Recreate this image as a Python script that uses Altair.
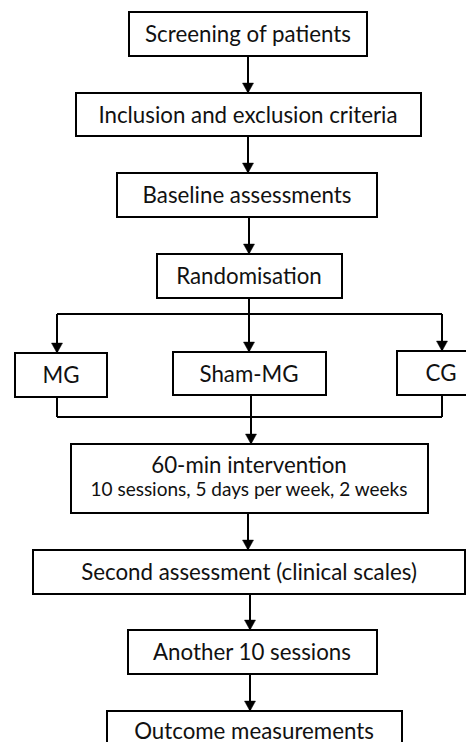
import altair as alt
import pandas as pd

# Boxes (diagram coordinates, y grows downward)
box_label = ["Screening of patients", "Inclusion and exclusion criteria", "Baseline assessments",
             "Randomisation", "MG", "Sham-MG", "CG", "60-min intervention",
             "Second assessment (clinical scales)", "Another 10 sessions", "Outcome measurements"]
box_x1 = [129, 76, 117, 157, 15, 173, 397, 71, 33, 128, 107]
box_x2 = [367, 421, 377, 342, 107, 326, 473, 428, 465, 377, 402]
box_y1 = [12, 93, 173, 254, 353, 352, 351, 444, 550, 630, 711]
box_y2 = [56, 136, 217, 298, 397, 395, 395, 513, 594, 674, 765]

# Main text positions
text_label = box_label
text_x = [248, 248, 247, 249, 61, 249, 441, 249, 249, 252, 254]
text_y = [35, 116, 196, 277, 376, 375, 374, 466, 573, 653, 732]

# Sub text
sub_label = ["10 sessions, 5 days per week, 2 weeks"]
sub_x = [249]
sub_y = [490]

# Connector segments
seg_x1 = [248, 248, 249, 249, 57, 57, 249, 442, 57, 442, 57, 251, 248, 250, 250]
seg_y1 = [56, 136, 217, 298, 314, 314, 314, 314, 397, 395, 417, 395, 513, 594, 674]
seg_x2 = [248, 248, 249, 249, 442, 57, 249, 442, 57, 442, 442, 251, 248, 250, 250]
seg_y2 = [93, 173, 254, 314, 314, 353, 352, 351, 417, 417, 417, 444, 550, 630, 711]

# Arrowheads (tip points)
arrow_x = [248, 248, 249, 57, 249, 442, 251, 248, 250, 250]
arrow_y = [93, 173, 254, 353, 352, 351, 444, 550, 630, 711]

boxes = pd.DataFrame({"label": box_label, "x1": box_x1, "x2": box_x2, "y1": box_y1, "y2": box_y2})
texts = pd.DataFrame({"label": text_label, "x": text_x, "y": text_y})
subs = pd.DataFrame({"label": sub_label, "x": sub_x, "y": sub_y})
segs = pd.DataFrame({"x1": seg_x1, "y1": seg_y1, "x2": seg_x2, "y2": seg_y2})
arrows = pd.DataFrame({"x": arrow_x, "y": arrow_y})

xs = alt.Scale(domain=[8, 466], nice=False, zero=False)
ys = alt.Scale(domain=[8, 742], nice=False, zero=False, reverse=True)

rects = alt.Chart(boxes).mark_rect(fill="white", stroke="black", strokeWidth=2, clip=False).encode(
    x=alt.X("x1:Q", scale=xs, axis=None), x2="x2:Q",
    y=alt.Y("y1:Q", scale=ys, axis=None), y2="y2:Q")

lines = alt.Chart(segs).mark_rule(color="black", strokeWidth=2).encode(
    x=alt.X("x1:Q", scale=xs, axis=None), x2="x2:Q",
    y=alt.Y("y1:Q", scale=ys, axis=None), y2="y2:Q")

heads = alt.Chart(arrows).mark_point(
    shape="M-1,-1.8L1,-1.8L0,0Z", filled=True, fill="black", stroke="black",
    strokeWidth=0.5, size=121, opacity=1).encode(
    x=alt.X("x:Q", scale=xs, axis=None), y=alt.Y("y:Q", scale=ys, axis=None))

main_text = alt.Chart(texts).mark_text(font="Lato", fontSize=22.3, color="#111111", baseline="middle").encode(
    x=alt.X("x:Q", scale=xs, axis=None), y=alt.Y("y:Q", scale=ys, axis=None), text="label:N")

sub_text = alt.Chart(subs).mark_text(font="Lato", fontSize=19, color="#111111", baseline="middle").encode(
    x=alt.X("x:Q", scale=xs, axis=None), y=alt.Y("y:Q", scale=ys, axis=None), text="label:N")

chart = alt.layer(lines, heads, rects, main_text, sub_text).properties(
    width=458, height=734, padding=0, autosize=alt.AutoSizeParams(type="none"),
    background="white"
).configure_view(stroke=None)

chart.save("out.html", embed_options={"renderer": "svg", "actions": False})
